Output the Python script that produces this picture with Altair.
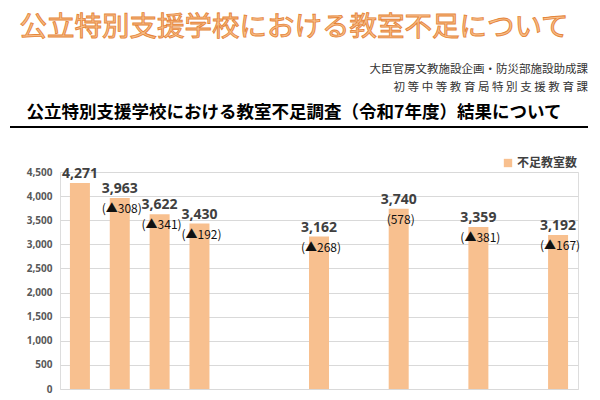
import altair as alt
import pandas as pd

# ---- data ----
all_years = ["平成25年度", "平成26年度", "平成27年度", "平成28年度", "平成29年度", "平成30年度",
             "令和元年度", "令和2年度", "令和3年度", "令和4年度", "令和5年度", "令和6年度", "令和7年度"]
years = ["平成25年度", "平成26年度", "平成27年度", "平成28年度",
         "令和元年度", "令和3年度", "令和5年度", "令和7年度"]
shortage = [4271, 3963, 3622, 3430, 3162, 3740, 3359, 3192]
change = [None, -308, -341, -192, -268, 578, -381, -167]
y_ticks = [0, 500, 1000, 1500, 2000, 2500, 3000, 3500, 4000, 4500]

series_name = "不足教室数"
main_title = "公立特別支援学校における教室不足について"
dept1 = "大臣官房文教施設企画・防災部施設助成課"
dept2 = "初 等 中 等 教 育 局 特 別 支 援 教 育 課"
section_title = "公立特別支援学校における教室不足調査（令和7年度）結果について"


def change_label(c):
    if c is None:
        return ""
    if c < 0:
        return f"(▲{abs(c)})"
    return f"({c})"


df = pd.DataFrame({
    "年度": years,
    "value": shortage,
    "sub": [change_label(c) for c in change],
    "series": [series_name] * len(years),
})

JP = "Noto Sans CJK JP"
NUM = "Noto Sans"

x_enc = alt.X("年度:N", sort=all_years,
              scale=alt.Scale(domain=all_years, paddingInner=0.5, paddingOuter=0.25),
              axis=None)
y_enc = alt.Y("value:Q", scale=alt.Scale(domain=[0, 4500], nice=False),
              axis=alt.Axis(values=y_ticks, format=",.0f", title=None, domain=False, ticks=False,
                            gridColor="#d9d9d9", labelColor="#595959", labelFontSize=10,
                            labelFont=NUM, labelFontWeight="bold", labelPadding=8))

base = alt.Chart(df)

bars = base.mark_bar(size=20).encode(
    x=x_enc, y=y_enc,
    color=alt.Color("series:N", scale=alt.Scale(range=["#F8C08F"]),
                    legend=alt.Legend(title=None, orient="none", legendX=442, legendY=-15,
                                      symbolType="square", symbolSize=70, symbolStrokeWidth=0,
                                      labelFont=JP, labelFontSize=12, labelFontWeight="bold",
                                      labelColor="#404040", labelOffset=3)),
)

val_text = base.mark_text(dy=-9, font=NUM, fontSize=14, fontWeight="bold",
                          color="#404040", baseline="middle").encode(
    x=x_enc, y=y_enc, text=alt.Text("value:Q", format=","))

sub_text = base.mark_text(dy=11, dx=2, font=JP, fontSize=12, color="#111111",
                          baseline="middle").encode(
    x=x_enc, y=y_enc, text="sub:N")

one = pd.DataFrame({"k": [0]})

title_txt = alt.Chart(one).mark_text(
    text=main_title, font=JP, fontSize=27.5, fontWeight="normal", fill="#F8BE88",
    stroke="#E5853A", strokeWidth=0.9, align="center", baseline="middle"
).encode(x=alt.value(234), y=alt.value(-144))

dept1_txt = alt.Chart(one).mark_text(
    text=dept1, font=JP, fontSize=11.5, color="#333333", align="right", baseline="middle"
).encode(x=alt.value(528), y=alt.value(-102))

dept2_txt = alt.Chart(one).mark_text(
    text=dept2, font=JP, fontSize=11.5, color="#333333", align="right", baseline="middle"
).encode(x=alt.value(528), y=alt.value(-84))

sec_txt = alt.Chart(one).mark_text(
    text=section_title, font=JP, fontSize=17.5, fontWeight="bold", color="#000000",
    align="center", baseline="middle"
).encode(x=alt.value(234), y=alt.value(-59))

underline = alt.Chart(one).mark_rule(color="#000000", strokeWidth=2).encode(
    x=alt.value(-50), x2=alt.value(528), y=alt.value(-45))

chart = alt.layer(bars, val_text, sub_text, title_txt, dept1_txt, dept2_txt, sec_txt, underline).properties(
    width=518, height=217,
    padding={"left": 52, "top": 164, "right": 14, "bottom": 8},
    autosize=alt.AutoSizeParams(type="none"),
).configure_view(stroke=None).configure(background="white")

chart.save("out.html", embed_options={"renderer": "svg", "actions": False})
